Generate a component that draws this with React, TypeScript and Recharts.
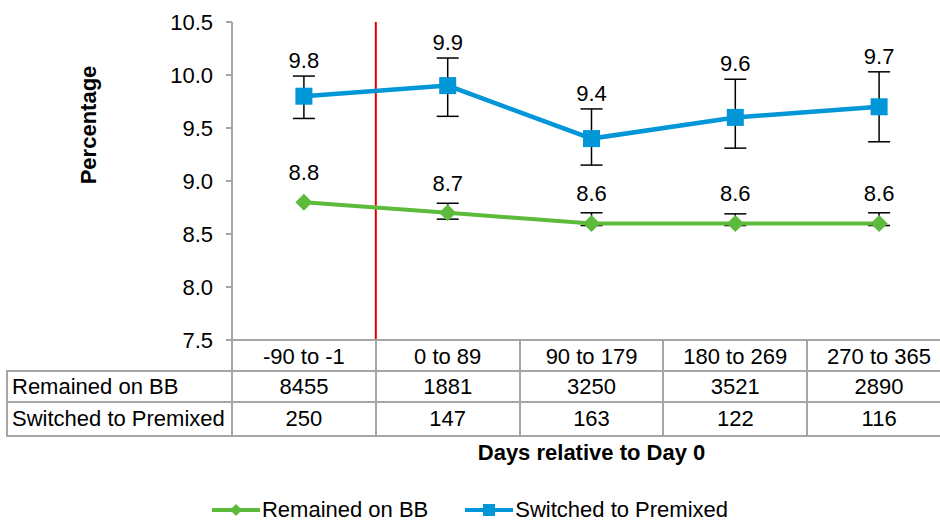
import React from 'react';
import { LineChart, Line, XAxis, YAxis, ErrorBar, ReferenceLine, LabelList, Legend } from 'recharts';

const categories = ['-90 to -1', '0 to 89', '90 to 179', '180 to 269', '270 to 365'];
const remainedOnBB = [8.8, 8.7, 8.6, 8.6, 8.6];
const switchedToPremixed = [9.8, 9.9, 9.4, 9.6, 9.7];
// [below, above]; the first green point shows no bar
const remainedErr = [null, [0.06, 0.09], [0.02, 0.1], [0.02, 0.09], [0.02, 0.1]];
const switchedErr = [[0.21, 0.19], [0.29, 0.26], [0.25, 0.28], [0.29, 0.36], [0.33, 0.33]];
const remainedCount = [8455, 1881, 3250, 3521, 2890];
const switchedCount = [250, 147, 163, 122, 116];
const yTicks = [7.5, 8.0, 8.5, 9.0, 9.5, 10.0, 10.5];

const GREEN = '#5dbb3b';
const BLUE = '#0096d8';
const GRID = '#a6a6a6';
const FONT = '"Liberation Sans", Arial, sans-serif';

const W = 951;
const H = 521;
const PLOT_LEFT = 232;
const COL_W = (W - PLOT_LEFT) / categories.length;

const data = categories.map((c, i) => ({
  x: i,
  bb: remainedOnBB[i],
  bbErr: remainedErr[i],
  pm: switchedToPremixed[i],
  pmErr: switchedErr[i],
  pmTop: switchedToPremixed[i] + switchedErr[i][1],
}));

const fmt = (v: any) => Number(v).toFixed(1);

const Diamond = (props: any) => {
  const { cx, cy, index } = props;
  const r = 8.5;
  return (
    <polygon
      key={`d-${index}`}
      points={`${cx},${cy - r} ${cx + r},${cy} ${cx},${cy + r} ${cx - r},${cy}`}
      fill={GREEN}
    />
  );
};

const Square = (props: any) => {
  const { cx, cy, index } = props;
  const s = 17;
  return <rect key={`s-${index}`} x={cx - s / 2} y={cy - s / 2} width={s} height={s} fill={BLUE} />;
};

const YLabel = (props: any) => {
  const { viewBox } = props;
  const x = viewBox.x + 88;
  const y = viewBox.y + 103;
  return (
    <text
      x={x}
      y={y}
      transform={`rotate(-90 ${x} ${y})`}
      textAnchor="middle"
      dominantBaseline="central"
      fontWeight="bold"
      fontSize={22}
      fill="#000"
    >
      Percentage
    </text>
  );
};

const renderLegend = (props: any) => {
  const items = (props.payload || []).filter((p: any) => p.type !== 'none');
  return (
    <div
      style={{
        display: 'flex',
        justifyContent: 'center',
        alignItems: 'flex-end',
        gap: 37,
        height: 30,
        fontFamily: FONT,
        fontSize: 22,
        lineHeight: '22px',
        color: '#000',
      }}
    >
      {items.map((p: any) => (
        <div key={p.value} style={{ display: 'flex', alignItems: 'center', height: 22 }}>
          <svg width={48} height={16} style={{ marginRight: 2 }}>
            <line x1={0} y1={8} x2={48} y2={8} stroke={p.color} strokeWidth={4} />
            {p.dataKey === 'bb' ? (
              <polygon points="24,2 30,8 24,14 18,8" fill={p.color} />
            ) : (
              <rect x={18} y={2} width={12} height={12} fill={p.color} />
            )}
          </svg>
          <span>{p.value}</span>
        </div>
      ))}
    </div>
  );
};

const tableRows = [
  { label: 'Remained on BB', values: remainedCount, top: 371, bottom: 402 },
  { label: 'Switched to Premixed', values: switchedCount, top: 402, bottom: 436 },
];

const CountTable = () => {
  const lineStyle = { position: 'absolute' as const, background: GRID };
  const hLines = [371, 402, 436];
  const vLines = categories.map((_, i) => PLOT_LEFT + i * COL_W).concat([W]);
  return (
    <div style={{ position: 'absolute', left: 0, top: 0, width: W, height: H, pointerEvents: 'none' }}>
      {hLines.map((y) => (
        <div key={`h${y}`} style={{ ...lineStyle, left: 7, top: y - 1, width: W - 7, height: 2 }} />
      ))}
      <div style={{ ...lineStyle, left: 6, top: 370, width: 2, height: 67 }} />
      {vLines.map((x, i) => (
        <div key={`v${i}`} style={{ ...lineStyle, left: x - 1, top: 340, width: 2, height: 97 }} />
      ))}
      {tableRows.map((r) => (
        <React.Fragment key={r.label}>
          <div
            style={{
              position: 'absolute',
              left: 12,
              top: r.top,
              height: r.bottom - r.top,
              display: 'flex',
              alignItems: 'center',
              fontSize: 22,
              whiteSpace: 'nowrap',
            }}
          >
            {r.label}
          </div>
          {r.values.map((v, i) => (
            <div
              key={i}
              style={{
                position: 'absolute',
                left: PLOT_LEFT + i * COL_W,
                width: COL_W,
                top: r.top,
                height: r.bottom - r.top,
                display: 'flex',
                alignItems: 'center',
                justifyContent: 'center',
                fontSize: 22,
              }}
            >
              {v}
            </div>
          ))}
        </React.Fragment>
      ))}
    </div>
  );
};

export default function App() {
  return (
    <div
      style={{
        position: 'absolute',
        left: 0,
        top: 0,
        width: 940,
        height: H,
        overflow: 'hidden',
        background: '#fff',
        fontFamily: FONT,
        color: '#000',
      }}
    >
      <div style={{ position: 'relative', width: W, height: H }}>
        <LineChart width={W} height={H} data={data} margin={{ top: 22, right: 0, bottom: 0, left: 0 }}>
          <XAxis
            type="number"
            dataKey="x"
            domain={[-0.5, 4.5]}
            ticks={[0, 1, 2, 3, 4]}
            interval={0}
            tickFormatter={(v: number) => categories[v]}
            height={151}
            tickSize={0}
            tickMargin={8}
            tickLine={false}
            axisLine={{ stroke: GRID, strokeWidth: 2 }}
            tick={{ fill: '#000', fontSize: 22 }}
            label={{
              value: 'Days relative to Day 0',
              position: 'insideTop',
              offset: 104,
              fontWeight: 'bold',
              fontSize: 22,
              fill: '#000',
            }}
          />
          <YAxis
            width={PLOT_LEFT}
            domain={[7.5, 10.5]}
            ticks={yTicks}
            tickFormatter={fmt}
            tickSize={6}
            tickMargin={13}
            axisLine={{ stroke: GRID, strokeWidth: 2 }}
            tickLine={{ stroke: GRID, strokeWidth: 2 }}
            tick={{ fill: '#000', fontSize: 22 }}
            label={{ content: YLabel }}
          />
          <ReferenceLine x={0.5} stroke="#e00000" strokeWidth={2} />
          <Legend
            verticalAlign="bottom"
            height={30}
            content={renderLegend}
            wrapperStyle={{ bottom: 0, left: 0, width: 940 }}
          />
          <Line
            dataKey="bb"
            name="Remained on BB"
            stroke={GREEN}
            strokeWidth={4}
            dot={false}
            activeDot={false}
            isAnimationActive={false}
          >
            <ErrorBar dataKey="bbErr" width={11} stroke="#000" strokeWidth={1.5} direction="y" zIndex={100} />
            <LabelList dataKey="bb" position="top" offset={22} formatter={fmt} fill="#000" fontSize={22} />
          </Line>
          <Line
            dataKey="pm"
            name="Switched to Premixed"
            stroke={BLUE}
            strokeWidth={4.5}
            dot={false}
            activeDot={false}
            isAnimationActive={false}
          >
            <ErrorBar dataKey="pmErr" width={11} stroke="#000" strokeWidth={1.5} direction="y" zIndex={100} />
          </Line>
          {/* markers on a higher layer so they sit over the error bars */}
          <Line
            dataKey="bb"
            stroke="none"
            dot={Diamond}
            activeDot={false}
            legendType="none"
            isAnimationActive={false}
            zIndex={1500}
          />
          <Line
            dataKey="pm"
            stroke="none"
            dot={Square}
            activeDot={false}
            legendType="none"
            isAnimationActive={false}
            zIndex={1500}
          />
          <Line
            dataKey="pmTop"
            stroke="none"
            dot={false}
            activeDot={false}
            legendType="none"
            isAnimationActive={false}
          >
            <LabelList dataKey="pm" position="top" offset={8} formatter={fmt} fill="#000" fontSize={22} />
          </Line>
        </LineChart>
        <CountTable />
      </div>
    </div>
  );
}
